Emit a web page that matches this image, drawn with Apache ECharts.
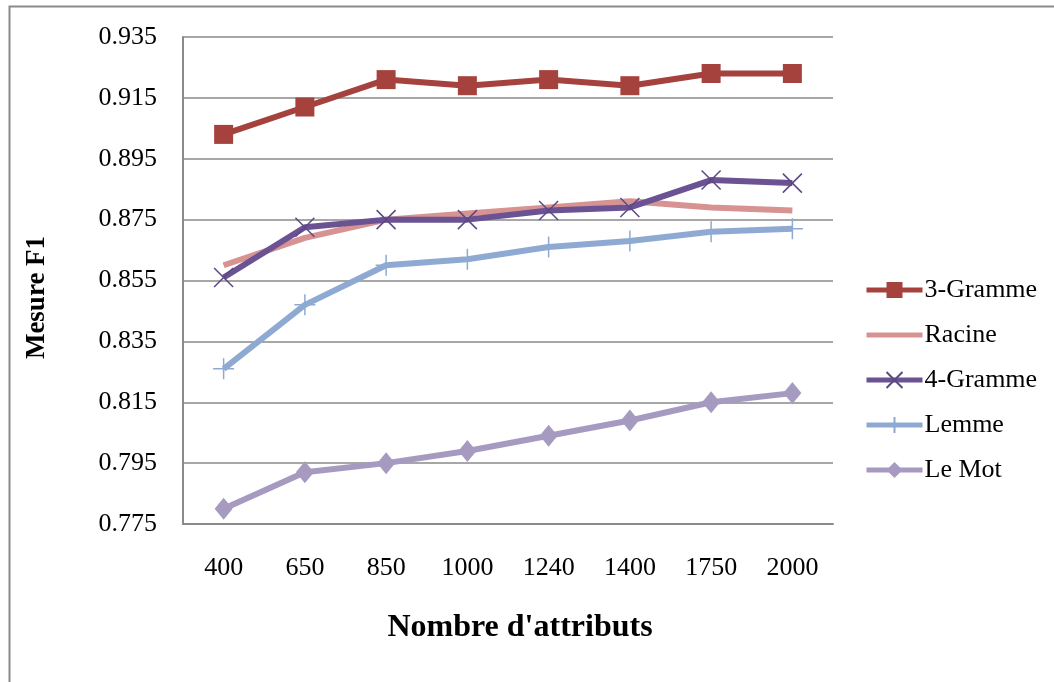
<!DOCTYPE html>
<html>
<head>
<meta charset="utf-8">
<script src="https://cdn.jsdelivr.net/npm/echarts@6/dist/echarts.min.js"></script>
<style>
html,body{margin:0;padding:0;background:#fff;}
#chart{width:1054px;height:682px;}
</style>
</head>
<body>
<div id="chart"></div>
<script>
const categories = ['400','650','850','1000','1240','1400','1750','2000'];
const gramme3 = [0.903, 0.912, 0.921, 0.919, 0.921, 0.919, 0.923, 0.923];
const racine  = [0.860, 0.869, 0.875, 0.877, 0.879, 0.881, 0.879, 0.878];
const gramme4 = [0.856, 0.8725, 0.875, 0.875, 0.878, 0.879, 0.888, 0.887];
const lemme   = [0.826, 0.847, 0.860, 0.862, 0.866, 0.868, 0.871, 0.872];
const leMot   = [0.780, 0.792, 0.795, 0.799, 0.804, 0.809, 0.815, 0.818];
const yMin = 0.775, yMax = 0.935, yStep = 0.005, yLabelStep = 0.02;

const FONT = '"Liberation Serif", "Times New Roman", serif';
const GRID = '#8a8a8a';
const crossX = 'path://M0,0L10,10M10,0L0,10';
const plus = 'path://M5,0L5,10M0,5L10,5';

const chart = echarts.init(document.getElementById('chart'), null, {renderer: 'canvas'});
const lineSeries = (name, data, color, extra) => Object.assign({
  name, type: 'line', data,
  lineStyle: {color, width: 6},
  itemStyle: {color},
  symbol: 'none',
  emphasis: {disabled: true},
  animation: false
}, extra || {});

chart.setOption({
  backgroundColor: '#fff',
  animation: false,
  graphic: [{
    type: 'rect', left: 7, top: 4,
    shape: {width: 1200, height: 800},
    style: {fill: 'none', stroke: '#8a8a8a', lineWidth: 2}, z: -1
  }],
  grid: {left: 183, right: 221, top: 37, bottom: 158, containLabel: false},
  legend: {
    orient: 'vertical', left: 859, top: 272,
    itemWidth: 56, itemHeight: 20, itemGap: 19,
    lineStyle: {width: 5},
    textStyle: {fontFamily: FONT, fontSize: 26, color: '#000', padding: [0,0,0,-3]},
    data: ['3-Gramme', {name: 'Racine', itemStyle: {opacity: 0}}, '4-Gramme', 'Lemme', 'Le Mot']
  },
  xAxis: {
    type: 'category', data: categories, boundaryGap: true,
    axisLine: {lineStyle: {color: GRID, width: 2}},
    axisTick: {show: false},
    axisLabel: {fontFamily: FONT, fontSize: 26, color: '#000', margin: 31},
    name: "Nombre d'attributs", nameLocation: 'middle', nameGap: 88,
    nameTextStyle: {fontFamily: FONT, fontSize: 32, fontWeight: 'bold', color: '#000', padding: [0,0,0,24]}
  },
  yAxis: {
    type: 'value', min: yMin, max: yMax, interval: yStep,
    axisLine: {show: true, lineStyle: {color: GRID, width: 2}},
    axisTick: {show: false},
    splitLine: {show: true, lineStyle: {color: [GRID, 'transparent', 'transparent', 'transparent'], width: 1.5}},
    axisLabel: {
      fontFamily: FONT, fontSize: 26, color: '#000', margin: 26,
      formatter: v => {
        const k = Math.round((v - yMin) / yStep);
        const per = Math.round(yLabelStep / yStep);
        return k % per === 0 ? v.toFixed(3) : '';
      }
    },
    name: 'Mesure F1', nameLocation: 'middle', nameGap: 132,
    nameTextStyle: {fontFamily: FONT, fontSize: 27, fontWeight: 'bold', color: '#000', padding: [0,0,0,-34]}
  },
  series: [
    lineSeries('3-Gramme', gramme3, '#A5423E', {symbol: 'rect', symbolSize: 19}),
    lineSeries('Racine', racine, '#D69391'),
    lineSeries('4-Gramme', gramme4, '#6B5393', {symbol: crossX, symbolSize: 19, itemStyle: {color: '#6B5393', borderColor: '#5E4785', borderWidth: 1.5}}),
    lineSeries('Lemme', lemme, '#8FAAD2', {symbol: plus, symbolSize: 21, itemStyle: {color: '#8FAAD2', borderColor: '#8FAAD2', borderWidth: 1.5}}),
    lineSeries('Le Mot', leMot, '#A79AC1', {symbol: 'diamond', symbolSize: [18, 22]})
  ]
});
</script>
</body>
</html>
